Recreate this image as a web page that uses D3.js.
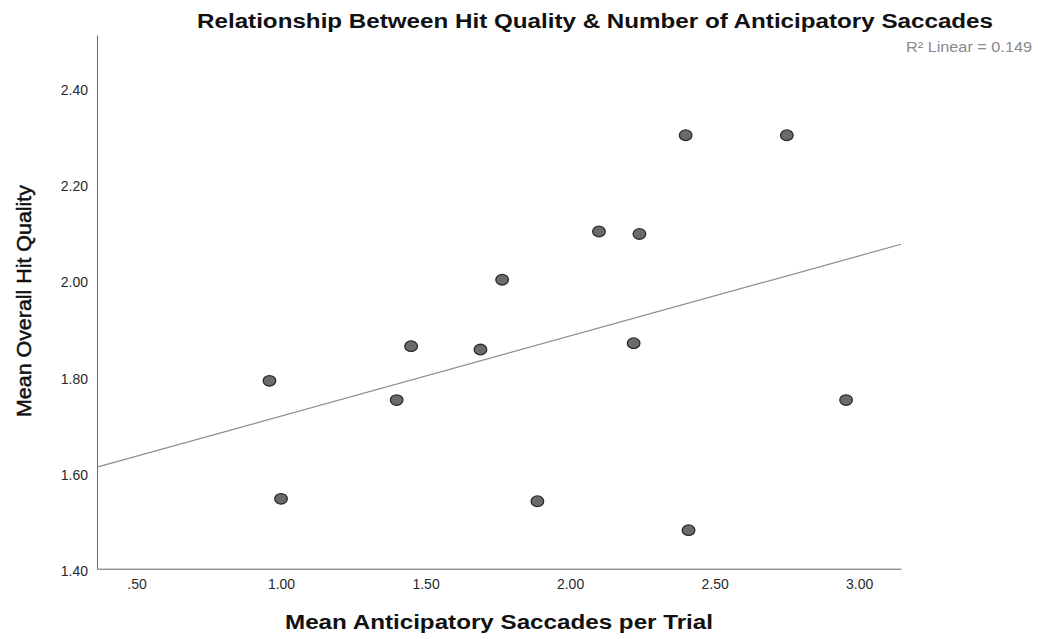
<!DOCTYPE html>
<html>
<head>
<meta charset="utf-8">
<script src="https://cdn.jsdelivr.net/npm/d3@7"></script>
<style>
  body { margin: 0; background: #fff; }
  text { font-family: "Liberation Sans", Arial, sans-serif; }
</style>
</head>
<body>
<script>
// mean anticipatory saccades per trial (x) vs mean overall hit quality (y)
var saccades = [0.96, 1.00, 1.45, 1.40, 1.69, 1.765, 1.887, 2.40, 2.75, 2.10, 2.24, 2.22, 2.955, 2.41];
var hitQuality = [1.79, 1.545, 1.862, 1.75, 1.855, 2.00, 1.54, 2.30, 2.30, 2.10, 2.095, 1.868, 1.75, 1.48];
var xTicks = [0.5, 1.0, 1.5, 2.0, 2.5, 3.0];
var yTicks = [1.4, 1.6, 1.8, 2.0, 2.2, 2.4];
var titleText = "Relationship Between Hit Quality & Number of Anticipatory Saccades";
var r2Label = "R\u00B2 Linear = 0.149";

var W = 1038, H = 639;

var x = d3.scaleLinear().domain([0.3633, 3.145]).range([97, 901]),
    y = d3.scaleLinear().domain([1.4, 2.508]).range([568.7, 35]);

var svg = d3.select("body").append("svg")
    .attr("width", W)
    .attr("height", H);

var pts = saccades.map((v, i) => ({x: v, y: hitQuality[i]}));

// least squares fit
var mx = d3.mean(saccades), my = d3.mean(hitQuality),
    sxy = d3.sum(pts, d => (d.x - mx)*(d.y - my)),
    sxx = d3.sum(pts, d => (d.x - mx)*(d.x - mx)),
    slope = sxy/sxx,
    icpt = my - slope*mx;

var fmt = v => d3.format(".2f")(v).replace(/^0\./, ".");

// axes, no tick marks
svg.append("g")
    .attr("transform", "translate(0," + y.range()[0] + ")")
    .call(d3.axisBottom(x).tickValues(xTicks).tickSize(0).tickPadding(10).tickFormat(fmt))
    .call(g => g.select(".domain").attr("stroke", "#666"))
    .call(g => g.selectAll("text").attr("font-size", 14).attr("fill", "#2a2a2a")
        .attr("font-family", "Liberation Sans, Arial, sans-serif"));

svg.append("g")
    .attr("transform", "translate(" + x.range()[0] + ",0)")
    .call(d3.axisLeft(y).tickValues(yTicks).tickSize(0).tickPadding(9).tickFormat(fmt))
    .call(g => g.select(".domain").attr("stroke", "#666"))
    .call(g => g.selectAll("text").attr("font-size", 14).attr("fill", "#2a2a2a").attr("dy", "0.5em")
        .attr("font-family", "Liberation Sans, Arial, sans-serif"));

// fit line
var xd = x.domain();
svg.append("line")
    .attr("x1", x(xd[0])).attr("y1", y(icpt + slope*xd[0]))
    .attr("x2", x(xd[1])).attr("y2", y(icpt + slope*xd[1]))
    .attr("stroke", "#8c8c8c")
    .attr("stroke-width", 1.2);

svg.selectAll(".pt")
    .data(pts)
  .enter().append("ellipse")
    .attr("class", "pt")
    .attr("cx", d => x(d.x))
    .attr("cy", d => y(d.y))
    .attr("rx", 6.3)
    .attr("ry", 5.3)
    .attr("fill", "#6b6b6b")
    .attr("stroke", "#2b2b2b")
    .attr("stroke-width", 1.3);

svg.append("text")
    .attr("x", 197).attr("y", 27.5)
    .attr("font-size", 20).attr("font-weight", "bold").attr("fill", "#111")
    .attr("textLength", 796).attr("lengthAdjust", "spacingAndGlyphs")
    .text(titleText);

svg.append("text")
    .attr("x", 906).attr("y", 52)
    .attr("font-size", 14).attr("fill", "#8a8a8a")
    .attr("textLength", 126).attr("lengthAdjust", "spacingAndGlyphs")
    .text(r2Label);

svg.append("text")
    .attr("x", 285).attr("y", 629)
    .attr("font-size", 20).attr("font-weight", "bold").attr("fill", "#111")
    .attr("textLength", 428).attr("lengthAdjust", "spacingAndGlyphs")
    .text("Mean Anticipatory Saccades per Trial");

svg.append("text")
    .attr("transform", "translate(31,301) rotate(-90)")
    .attr("text-anchor", "middle")
    .attr("font-size", 20).attr("fill", "#111")
    .attr("stroke", "#111").attr("stroke-width", 0.5)
    .style("font-family", "'Liberation Sans Narrow', 'Liberation Sans', sans-serif")
    .attr("textLength", 232).attr("lengthAdjust", "spacingAndGlyphs")
    .text("Mean Overall Hit Quality");
</script>
</body>
</html>
